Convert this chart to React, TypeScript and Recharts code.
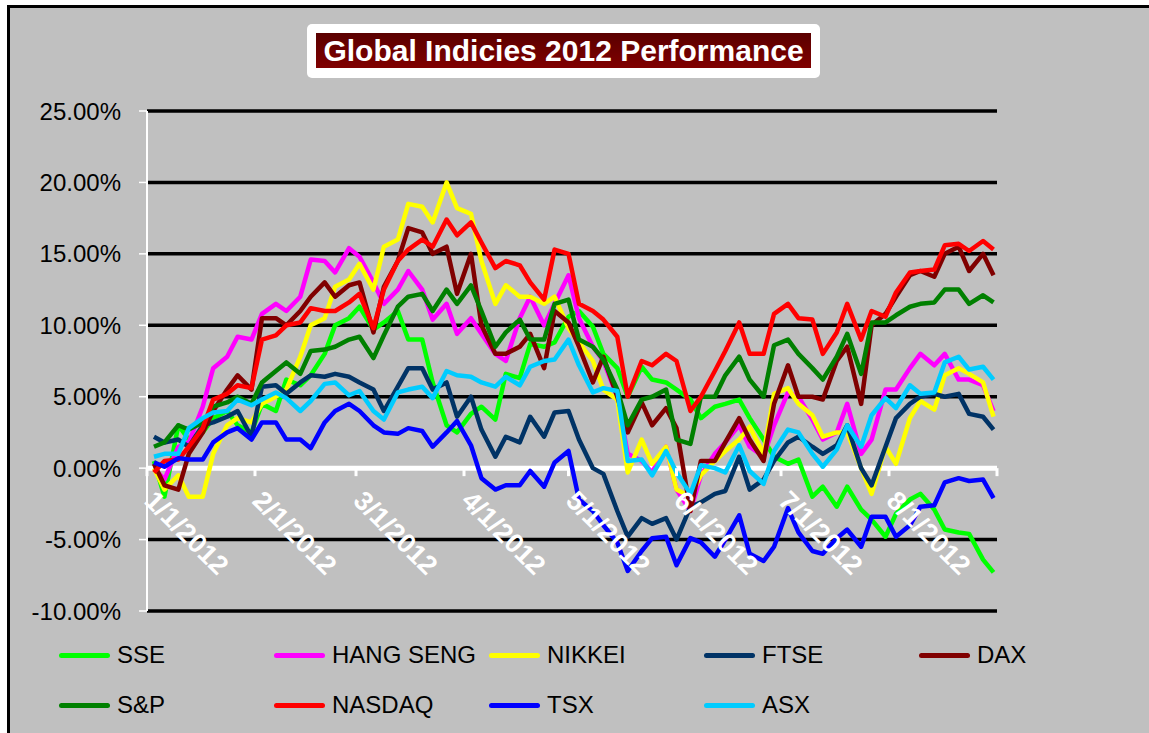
import React from "react";
import { CartesianGrid, Legend, Line, LineChart, XAxis, YAxis } from "recharts";

// day of year (1/1/2012 = 0) for each sampled trading day
const days = [
  2, 5, 9, 12, 16, 19, 23, 26, 30,
  33, 37, 40, 44, 47, 51, 54, 58,
  61, 65, 68, 72, 75, 79, 82, 86, 89,
  93, 96, 100, 103, 107, 110, 114, 117,
  121, 124, 128, 131, 135, 138, 142, 145, 149,
  152, 156, 159, 163, 166, 170, 173, 177, 180,
  184, 187, 191, 194, 198, 201, 205, 208, 212,
  215, 219, 222, 226, 229, 233, 236, 240, 243,
];

const monthTicks = [0, 31, 60, 91, 121, 152, 182, 213, 244];
const monthLabels = ["1/1/2012", "2/1/2012", "3/1/2012", "4/1/2012", "5/1/2012", "6/1/2012", "7/1/2012", "8/1/2012", ""];
const yTicks = [-10, -5, 0, 5, 10, 15, 20, 25];

const sse = [
  0.5, -2.0, 3.0, 2.0, 2.5, 3.5, 4.0, 3.0, 2.5,
  4.5, 4.0, 6.2, 5.8, 6.5, 8.0, 10.0, 10.5,
  11.3, 9.7, 10.2, 11.0, 9.0, 9.0, 6.0, 3.0, 2.5,
  3.8, 4.3, 3.4, 6.6, 6.3, 8.7, 8.5, 8.8,
  10.6, 11.0, 9.9, 8.0, 7.0, 5.0, 7.1, 6.2, 6.0,
  5.5, 4.8, 3.5, 4.3, 4.5, 4.8, 3.5, 2.0, 0.8,
  0.3, 0.6, -2.0, -1.3, -2.7, -1.3, -2.9, -3.6, -4.8,
  -3.2, -2.2, -1.8, -2.9, -4.3, -4.5, -4.6, -6.4, -7.3,
];
const hangSeng = [
  0, -0.8, 1.5, 1.8, 4.3, 7.0, 7.8, 9.2, 9.0,
  10.8, 11.5, 11.0, 12.0, 14.6, 14.5, 13.7, 15.4,
  14.8, 13.0, 11.5, 12.5, 13.8, 12.5, 10.4, 11.5, 9.4,
  10.5, 9.4, 8.0, 7.5, 10.5, 12.0, 10.0, 11.5,
  13.5, 10.5, 8.5, 7.5, 5.0, 1.0, 0.5, -0.3, 1.5,
  -1.5, -3.0, -0.5, 1.0, 1.8, 3.0, 1.5, 0.8, 3.0,
  5.3, 5.0, 3.4, 2.0, 2.5, 4.5, 1.0, 2.0, 5.5,
  5.5, 7.0, 8.0, 7.2, 8.0, 6.2, 6.2, 5.8, 4.0,
];
const nikkei = [
  0, -1.5, -0.5, -2.0, -2.0, 1.0, 3.0, 3.5, 3.2,
  4.5, 5.0, 5.5, 7.8, 10.0, 10.5, 12.7, 13.2,
  14.3, 12.5, 15.5, 16.0, 18.5, 18.3, 17.2, 20.0, 18.2,
  17.8, 14.5, 11.5, 12.8, 12.0, 12.0, 11.5, 12.0,
  9.8, 8.8, 7.5, 5.5, 4.8, -0.3, 2.0, 0.3, 1.5,
  -1.5, -2.0, -0.5, 0.5, 1.2, 2.0, 2.9, 1.0, 5.2,
  5.6, 4.5, 3.7, 2.2, 2.5, 2.5, 0.0, -1.8, 1.5,
  0.3, 3.5, 4.7, 4.1, 6.5, 7.0, 6.6, 6.0, 3.6,
];
const ftse = [
  2.2, 1.8, 2.0, 1.5, 3.0, 3.2, 3.6, 4.0, 2.2,
  5.7, 5.8, 5.2, 6.0, 6.5, 6.4, 6.6, 6.4,
  6.0, 5.5, 4.0, 5.7, 7.0, 7.0, 5.5, 6.0, 3.6,
  5.0, 2.7, 0.8, 2.2, 1.8, 3.6, 2.2, 3.9,
  4.0, 2.0, 0.0, -0.4, -3.0, -4.8, -3.5, -3.9, -3.5,
  -5.0, -2.7, -2.4, -1.8, -1.6, 0.8, -1.5, -0.8, 0.5,
  1.8, 2.2, 1.5, 1.0, 1.6, 3.0, 0.0, -1.2, 1.5,
  3.5, 4.5, 5.0, 5.2, 5.0, 5.2, 3.8, 3.6, 2.7,
];
const dax = [
  0.3, -1.2, -1.5, 1.0, 2.5, 4.0, 5.5, 6.5, 5.5,
  10.5, 10.5, 10.0, 11.0, 12.0, 13.0, 12.0, 12.8,
  13.0, 9.5, 12.7, 14.5, 16.8, 16.5, 15.0, 15.5, 12.2,
  15.0, 10.0, 8.0, 8.0, 8.5, 9.4, 7.0, 11.0,
  10.2, 8.5, 6.0, 7.8, 5.0, 2.5, 4.6, 3.0, 4.2,
  2.8, -3.0, 0.5, 0.5, 1.8, 3.5, 2.0, 0.5, 4.5,
  7.2, 5.0, 5.0, 4.8, 7.5, 8.5, 4.5, 10.0, 10.8,
  12.0, 13.5, 13.8, 13.4, 15.0, 15.5, 13.8, 15.0, 13.5,
];
const sp = [
  1.5, 1.8, 3.0, 2.7, 3.2, 4.3, 4.6, 5.0, 4.5,
  6.0, 6.8, 7.4, 6.6, 8.2, 8.3, 8.5, 9.0,
  9.2, 7.7, 9.3, 11.3, 12.0, 12.2, 11.0, 12.5, 11.5,
  12.8, 11.0, 8.5, 9.5, 10.4, 9.0, 9.0, 11.5,
  11.8, 9.0, 8.5, 7.6, 5.5, 3.0, 4.8, 5.0, 5.5,
  2.0, 1.7, 5.0, 5.0, 6.5, 7.8, 6.2, 5.0, 8.6,
  9.0, 8.0, 7.0, 6.2, 7.8, 9.4, 6.6, 10.2, 10.2,
  10.7, 11.3, 11.5, 11.6, 12.5, 12.5, 11.5, 12.1, 11.6,
];
const nasdaq = [
  -0.3, 0.5, 0.6, 1.5, 2.8, 4.8, 5.2, 5.8, 5.6,
  9.0, 9.3, 10.0, 10.2, 11.2, 11.0, 11.0, 11.6,
  12.2, 9.8, 12.5, 14.5, 15.3, 16.0, 15.5, 17.4, 16.3,
  17.2, 15.8, 14.0, 14.5, 14.2, 13.0, 11.8, 15.3,
  15.0, 11.5, 11.0, 10.4, 9.2, 5.0, 7.5, 7.2, 8.0,
  7.5, 4.0, 5.0, 6.8, 8.2, 10.2, 8.0, 8.0, 10.8,
  11.5, 10.5, 10.4, 8.0, 9.5, 11.5, 9.0, 11.0, 10.6,
  12.3, 13.7, 13.8, 13.9, 15.6, 15.7, 15.2, 15.9, 15.3,
];
const tsx = [
  0.4, 0.1, 0.7, 0.6, 0.6, 1.8, 2.5, 2.8, 2.0,
  3.2, 3.2, 2.0, 2.0, 1.4, 3.2, 4.0, 4.5,
  4.0, 3.0, 2.5, 2.4, 2.8, 2.6, 1.5, 2.5, 3.3,
  1.6, -0.7, -1.5, -1.2, -1.2, -0.2, -1.3, 0.4,
  1.2, -2.2, -3.0, -4.0, -5.2, -7.2, -5.8, -4.9, -4.8,
  -6.8, -4.9, -5.2, -6.2, -5.0, -3.3, -6.0, -6.5, -5.5,
  -2.8, -4.5, -5.8, -6.0, -4.9, -4.3, -5.5, -3.4, -3.4,
  -4.8, -4.0, -2.7, -2.6, -1.0, -0.7, -0.9, -0.8, -2.1,
];
const asx = [
  0.8, 1.0, 1.0, 2.8, 3.5, 3.9, 4.0, 4.8, 4.4,
  4.8, 5.3, 4.9, 4.0, 4.7, 5.9, 6.0, 5.1,
  5.4, 4.0, 3.4, 5.3, 5.5, 5.7, 4.9, 6.8, 6.5,
  6.4, 6.0, 5.7, 6.4, 5.8, 7.1, 7.5, 7.6,
  9.0, 7.2, 5.3, 5.6, 5.4, 0.5, 0.6, -0.5, 1.2,
  -0.3, -1.8, 0.2, 0.0, -0.3, 1.6, -0.2, -1.1, 1.2,
  2.7, 2.5, 1.0, 0.1, 1.3, 3.0, 1.5, 3.7, 4.9,
  4.2, 5.8, 5.2, 5.3, 7.4, 7.8, 6.9, 7.1, 6.2,
];

const seriesList = [
  { key: "sse", name: "SSE", color: "#00ff00", values: sse },
  { key: "hangSeng", name: "HANG SENG", color: "#ff00ff", values: hangSeng },
  { key: "nikkei", name: "NIKKEI", color: "#ffff00", values: nikkei },
  { key: "ftse", name: "FTSE", color: "#003366", values: ftse },
  { key: "dax", name: "DAX", color: "#800000", values: dax },
  { key: "sp", name: "S&P", color: "#008000", values: sp },
  { key: "nasdaq", name: "NASDAQ", color: "#ff0000", values: nasdaq },
  { key: "tsx", name: "TSX", color: "#0000ff", values: tsx },
  { key: "asx", name: "ASX", color: "#00ccff", values: asx },
];

const data = days.map((day, i) => {
  const row: Record<string, number> = { day };
  seriesList.forEach((s) => {
    row[s.key] = s.values[i];
  });
  return row;
});

const FONT = '"Liberation Sans", Arial, sans-serif';
const Y_MIN = -10;
const Y_MAX = 25;
const PLOT_H = 500;

const GridLine = (props: any) => {
  const { x1, x2, y1, y2, index } = props;
  const zero = yTicks[index] === 0;
  return (
    <line
      x1={x1}
      x2={x2}
      y1={y1}
      y2={y2}
      stroke={zero ? "#ffffff" : "#000000"}
      strokeWidth={zero ? 5 : 3.5}
    />
  );
};

const MonthTick = (props: any) => {
  const { x, y, payload } = props;
  // labels sit next to the 0% line, not at the bottom of the plot
  const zeroY = y - (PLOT_H * (0 - Y_MIN)) / (Y_MAX - Y_MIN);
  const idx = monthTicks.indexOf(payload.value);
  const label = monthLabels[idx] || "";
  const lx = x - 4;
  const ly = zeroY + 34;
  return (
    <g>
      <line x1={x} x2={x} y1={zeroY} y2={zeroY + 8} stroke="#ffffff" strokeWidth={3} />
      {label && (
        <text
          x={lx}
          y={ly}
          transform={`rotate(45 ${lx} ${ly})`}
          fill="#ffffff"
          fontSize={27}
          fontWeight="bold"
          fontFamily={FONT}
          textAnchor="start"
        >
          {label}
        </text>
      )}
    </g>
  );
};

const LegendContent = () => (
  <div style={{ position: "relative", width: "100%", height: "100%" }}>
    {seriesList.map((s, i) => (
      <div
        key={s.key}
        style={{
          position: "absolute",
          left: 49 + (i % 5) * 215,
          top: Math.floor(i / 5) * 50,
          height: 44,
          display: "flex",
          alignItems: "center",
          whiteSpace: "nowrap",
        }}
      >
        <span style={{ display: "inline-block", width: 51, height: 5, background: s.color, borderRadius: 3 }} />
        <span style={{ marginLeft: 7, fontSize: 24, color: "#000" }}>{s.name}</span>
      </div>
    ))}
  </div>
);

export default function App() {
  return (
    <div
      style={{
        position: "fixed",
        left: 7,
        top: 5,
        width: 1142,
        height: 728,
        boxSizing: "border-box",
        borderTop: "3px solid #000",
        borderLeft: "3px solid #000",
        background: "#c0c0c0",
        fontFamily: FONT,
        overflow: "hidden",
      }}
    >
      <div
        style={{
          position: "absolute",
          left: 297,
          top: 16,
          width: 513,
          height: 54,
          background: "#ffffff",
          borderRadius: 5,
          zIndex: 2,
        }}
      >
        <div
          style={{
            position: "absolute",
            left: 9,
            top: 9,
            width: 495,
            height: 35,
            background: "linear-gradient(#5a0000, #800000)",
            color: "#ffffff",
            fontWeight: "bold",
            fontSize: 30,
            lineHeight: "35px",
            textAlign: "center",
            whiteSpace: "nowrap",
          }}
        >
          Global Indicies 2012 Performance
        </div>
      </div>
      <LineChart
        width={1139}
        height={725}
        data={data}
        margin={{ top: 103, right: 152, bottom: 21, left: 0 }}
      >
        <CartesianGrid vertical={false} horizontal={GridLine} />
        <XAxis
          dataKey="day"
          type="number"
          domain={[0, 244]}
          ticks={monthTicks}
          height={1}
          axisLine={false}
          tickLine={false}
          tickSize={0}
          tickMargin={0}
          interval={0}
          tick={<MonthTick />}
        />
        <YAxis
          type="number"
          domain={[Y_MIN, Y_MAX]}
          ticks={yTicks}
          width={137}
          interval={0}
          axisLine={{ stroke: "#ffffff", strokeWidth: 2 }}
          tickLine={{ stroke: "#ffffff", strokeWidth: 1.5 }}
          tickSize={8}
          tickMargin={18}
          tick={{ fill: "#000000", fontSize: 24, fontFamily: FONT }}
          tickFormatter={(v: number) => `${v.toFixed(2)}%`}
        />
        <Legend
          verticalAlign="bottom"
          content={<LegendContent />}
          wrapperStyle={{ left: 0, top: 625, width: 1139, height: 100 }}
        />
        {seriesList.map((s) => (
          <Line
            key={s.key}
            dataKey={s.key}
            name={s.name}
            stroke={s.color}
            strokeWidth={4.5}
            strokeLinejoin="round"
            dot={false}
            type="linear"
            isAnimationActive={false}
          />
        ))}
      </LineChart>
    </div>
  );
}
